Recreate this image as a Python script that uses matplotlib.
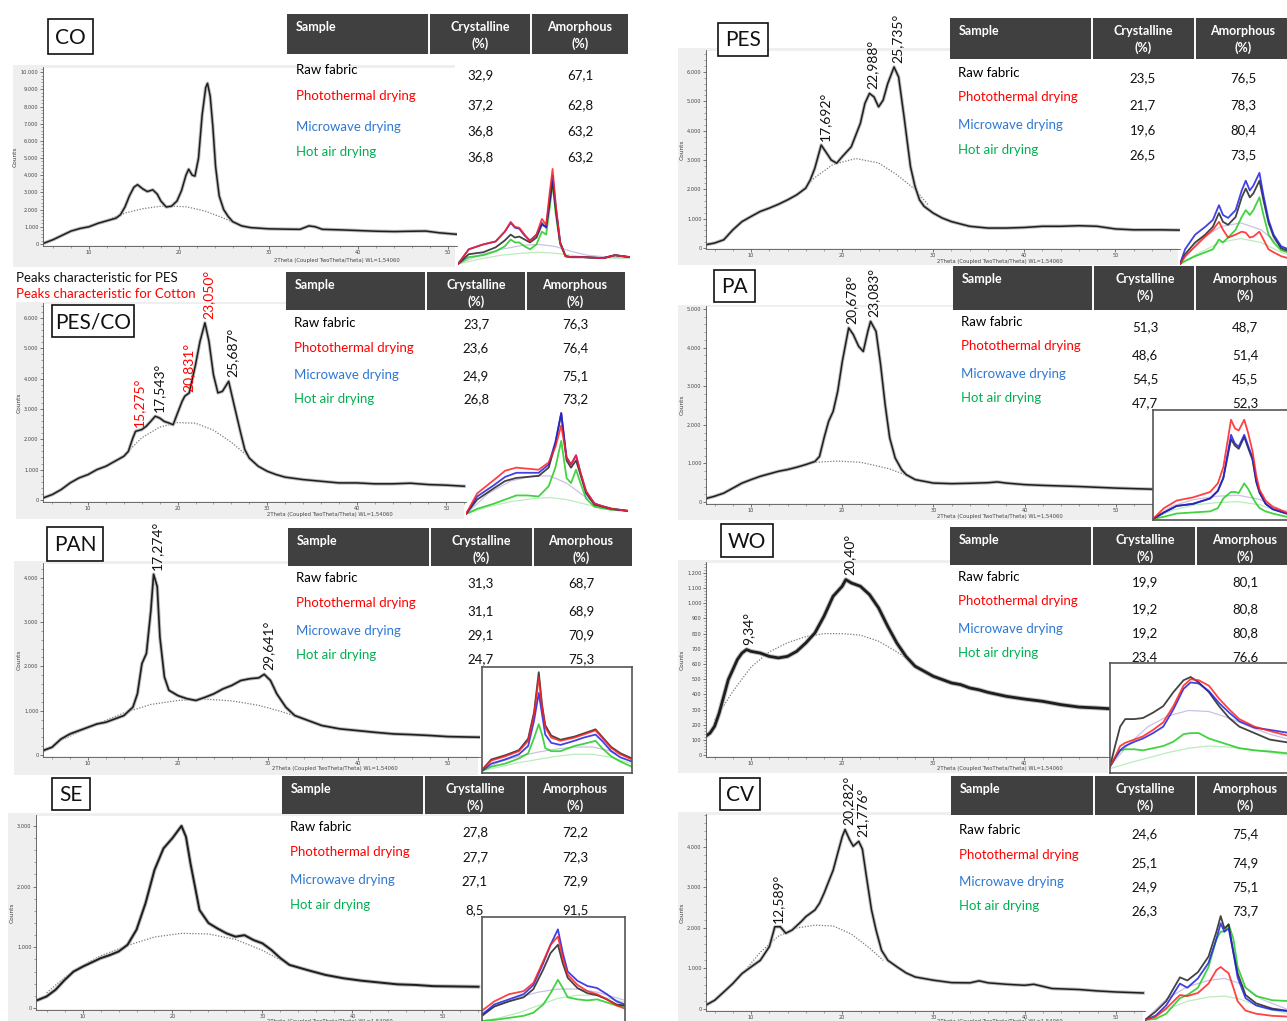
import matplotlib
matplotlib.use("Agg")
import matplotlib.pyplot as plt
from matplotlib.patches import Rectangle
from matplotlib.ticker import MultipleLocator, FuncFormatter

plt.rcParams['font.family'] = ['Lato', 'DejaVu Sans']

# ---------------- DATA ----------------
samples = ["Raw fabric", "Photothermal drying", "Microwave drying", "Hot air drying"]
xlabel_text = "2Theta (Coupled TwoTheta/Theta) WL=1,54060"

co_cryst = [32.9, 37.2, 36.8, 36.8]; co_amor = [67.1, 62.8, 63.2, 63.2]
pes_cryst = [23.5, 21.7, 19.6, 26.5]; pes_amor = [76.5, 78.3, 80.4, 73.5]
pesco_cryst = [23.7, 23.6, 24.9, 26.8]; pesco_amor = [76.3, 76.4, 75.1, 73.2]
pa_cryst = [51.3, 48.6, 54.5, 47.7]; pa_amor = [48.7, 51.4, 45.5, 52.3]
pan_cryst = [31.3, 31.1, 29.1, 24.7]; pan_amor = [68.7, 68.9, 70.9, 75.3]
wo_cryst = [19.9, 19.2, 19.2, 23.4]; wo_amor = [80.1, 80.8, 80.8, 76.6]
se_cryst = [27.8, 27.7, 27.1, 8.5]; se_amor = [72.2, 72.3, 72.9, 91.5]
cv_cryst = [24.6, 25.1, 24.9, 26.3]; cv_amor = [75.4, 74.9, 75.1, 73.7]

# main diffractograms (2theta, counts)
co_x = [5, 6, 7, 8, 9, 10, 11, 12, 13, 13.5, 14, 14.5, 15, 15.4, 16, 16.5, 17.1, 17.6, 18, 18.6, 19.2, 19.8, 20.3, 20.8, 21.1, 21.5, 21.8, 22.2, 22.6, 23.0, 23.2, 23.5, 23.8, 24.1, 24.5, 25, 25.5, 26, 27, 28, 30, 32, 33.5, 34.5, 35.2, 36, 38, 40, 42, 44, 46, 47.5, 49, 51]
co_y = [50, 250, 500, 750, 900, 1000, 1200, 1350, 1500, 1700, 2150, 2800, 3300, 3450, 3200, 3050, 3150, 2900, 2500, 2150, 2200, 2500, 3100, 4000, 4350, 4000, 3950, 5000, 7500, 9100, 9350, 8600, 6800, 4500, 2800, 2000, 1600, 1300, 1050, 950, 880, 860, 850, 1050, 1000, 850, 820, 780, 740, 720, 740, 750, 650, 560]
co_bg_x = [8, 10, 12, 14, 16, 18, 19.5, 21, 23, 25, 26.5, 28]
co_bg_y = [750, 1050, 1400, 1800, 2050, 2200, 2200, 2150, 1900, 1500, 1150, 950]

pesco_x = [5, 6, 7, 8, 9, 10, 11, 12, 13, 14, 14.5, 15, 15.3, 16, 16.5, 17, 17.5, 18, 18.5, 19, 19.5, 20, 20.5, 20.8, 21.3, 22, 22.5, 23.05, 23.5, 24, 24.5, 25, 25.7, 26.3, 27, 27.5, 28, 29, 30, 31, 32, 34, 36, 38, 40, 42, 44, 46, 48, 50, 52]
pesco_y = [66, 175, 340, 560, 725, 835, 1000, 1110, 1275, 1440, 1600, 2040, 2260, 2320, 2430, 2590, 2760, 2700, 2590, 2540, 2480, 2870, 3250, 3420, 3530, 4460, 5230, 5840, 5230, 4130, 3530, 3580, 3910, 3140, 2260, 1660, 1380, 1110, 945, 835, 750, 670, 615, 560, 560, 530, 530, 550, 505, 485, 450]
pesco_bg_x = [14.5, 16, 18, 20, 22, 24, 26, 27.8]
pesco_bg_y = [1600, 2050, 2400, 2550, 2530, 2300, 1900, 1450]

pan_x = [5, 6, 7, 8, 9, 10, 11, 12, 13, 14, 15, 15.5, 16, 16.5, 17, 17.3, 17.7, 18, 18.5, 19, 20, 21, 22, 23, 24, 25, 26, 27, 28, 29, 29.6, 30.3, 31, 32, 33, 34, 36, 38, 40, 42, 44, 46, 48, 50, 53.6]
pan_y = [100, 175, 360, 475, 550, 625, 700, 740, 815, 890, 1080, 1380, 2060, 2290, 3270, 4075, 3800, 2660, 1760, 1460, 1340, 1270, 1230, 1300, 1380, 1490, 1570, 1680, 1720, 1740, 1820, 1680, 1380, 1080, 890, 815, 665, 590, 550, 510, 475, 460, 440, 415, 400]
pan_bg_x = [5, 7, 9, 11, 14, 17, 20, 23, 26, 29, 31.5, 33.5]
pan_bg_y = [60, 330, 520, 700, 950, 1140, 1230, 1260, 1220, 1120, 980, 850]

se_x = [5, 6, 7, 8, 9, 10, 11, 12, 13, 14, 15, 16, 17, 18, 19, 20, 20.5, 21, 21.5, 22, 22.5, 23, 24, 25, 26, 27, 28, 29, 30, 31, 32, 33, 35, 37, 39, 41, 43, 45, 47, 49, 54]
se_y = [130, 190, 300, 460, 600, 680, 750, 820, 870, 930, 1040, 1290, 1725, 2275, 2630, 2800, 2900, 3000, 2820, 2380, 2000, 1615, 1400, 1310, 1230, 1175, 1200, 1120, 1065, 955, 820, 710, 625, 545, 490, 450, 420, 390, 380, 360, 350]
se_bg_x = [6, 8, 10, 12, 15, 18, 21, 24, 27, 30, 32, 34]
se_bg_y = [250, 500, 700, 860, 1030, 1170, 1230, 1220, 1130, 950, 790, 650]

pes_x = [5, 6, 7, 8, 9, 10, 11, 12, 13, 14, 15, 16, 16.5, 17, 17.7, 18.2, 18.8, 19.4, 20, 21, 22, 22.5, 23, 23.5, 24, 24.5, 25, 25.7, 26.2, 26.8, 27.5, 28, 28.5, 29, 30, 31, 32, 34, 36, 38, 40, 42, 44, 46, 48, 50, 52, 55, 57]
pes_y = [110, 170, 280, 620, 900, 1075, 1245, 1360, 1490, 1640, 1810, 2040, 2320, 2720, 3510, 3280, 3000, 2890, 3110, 3450, 4250, 4930, 5270, 5150, 4810, 5040, 5600, 6170, 5830, 4470, 2780, 2100, 1640, 1420, 1190, 1020, 900, 740, 680, 680, 700, 740, 740, 760, 740, 650, 620, 620, 610]
pes_bg_x = [15, 17, 19, 21.5, 24, 26, 28, 29.5]
pes_bg_y = [1800, 2400, 2850, 3050, 2900, 2500, 2000, 1450]

pa_x = [5, 6, 7, 8, 9, 10, 11, 12, 13, 14, 15, 16, 17, 17.5, 18, 18.5, 19, 19.5, 20, 20.7, 21.2, 21.8, 22.3, 22.8, 23.1, 23.7, 24.2, 24.7, 25.2, 25.8, 26.5, 27, 28, 29, 30, 32, 34, 36, 37, 38, 40, 42, 44, 46, 48, 50, 54.3]
pa_y = [86, 150, 230, 360, 490, 580, 665, 730, 795, 840, 900, 970, 1050, 1180, 1660, 2090, 2350, 2870, 3640, 4510, 4340, 4030, 3900, 4420, 4680, 4420, 3560, 2520, 1660, 1140, 840, 710, 580, 535, 490, 475, 485, 500, 520, 490, 450, 430, 415, 400, 380, 360, 330]
pa_bg_x = [7, 10, 14, 17, 19.5, 22, 25, 27]
pa_bg_y = [220, 570, 870, 1030, 1060, 1030, 870, 700]

wo_x = [5, 5.5, 6, 6.5, 7, 7.5, 8, 8.5, 9, 9.5, 10, 11, 12, 13, 14, 15, 16, 17, 18, 19, 20, 20.4, 21, 22, 23, 24, 25, 26, 27, 28, 29, 30, 31, 32, 33, 34, 35, 36, 38, 40, 42, 44, 46, 48, 49.4]
wo_y = [123, 145, 190, 277, 387, 497, 563, 630, 672, 695, 683, 672, 650, 640, 650, 683, 738, 804, 914, 1046, 1112, 1156, 1134, 1112, 1057, 969, 848, 738, 650, 585, 552, 519, 497, 475, 464, 442, 430, 413, 387, 369, 354, 332, 316, 310, 305]
wo_bg_x = [6, 8, 10, 12, 14, 16, 18, 20, 22, 24, 26, 27]
wo_bg_y = [230, 420, 580, 680, 740, 780, 800, 800, 790, 750, 680, 640]

cv_x = [5, 6, 7, 8, 9, 10, 11, 12, 12.6, 13.2, 13.8, 14.5, 15.5, 16, 17, 17.5, 18, 19, 19.5, 20, 20.3, 20.8, 21.2, 21.8, 22.2, 22.7, 23.2, 23.7, 24.3, 25, 26, 27, 28, 30, 32, 34, 35, 36, 38, 40, 41, 43, 46, 48, 50, 53]
cv_y = [90, 215, 420, 630, 875, 1040, 1200, 1540, 2030, 2030, 1870, 1950, 2160, 2280, 2445, 2610, 2860, 3430, 3850, 4260, 4430, 4180, 4020, 4140, 3950, 3190, 2450, 1950, 1450, 1200, 1040, 890, 790, 710, 650, 645, 695, 645, 610, 585, 610, 505, 480, 445, 420, 395]
cv_bg_x = [7, 9, 11, 13, 15, 17, 19, 21, 23, 24.5]
cv_bg_y = [420, 860, 1400, 1800, 2000, 2070, 2050, 1850, 1500, 1200]

# peak labels
pesco_peak_lbl = ["15,275°", "17,543°", "20,831°", "23,050°", "25,687°"]
pesco_peak_x = [15.275, 17.543, 20.831, 23.05, 25.687]
pesco_peak_y = [2260, 2760, 3420, 5840, 3910]
pesco_peak_col = ["red", "black", "red", "red", "black"]
pes_peak_lbl = ["17,692°", "22,988°", "25,735°"]
pes_peak_x = [17.692, 22.988, 25.735]
pes_peak_y = [3510, 5270, 6170]
pan_peak_lbl = ["17,274°", "29,641°"]
pan_peak_x = [17.274, 29.641]
pan_peak_y = [4075, 1820]
pa_peak_lbl = ["20,678°", "23,083°"]
pa_peak_x = [20.678, 23.083]
pa_peak_y = [4510, 4680]
wo_peak_lbl = ["9,34°", "20,40°"]
wo_peak_x = [9.34, 20.40]
wo_peak_y = [695, 1156]
cv_peak_lbl = ["12,589°", "20,282°", "21,776°"]
cv_peak_x = [12.589, 20.282, 21.776]
cv_peak_y = [2030, 4430, 4140]

# insets (2theta, % of inset height) : raw, photothermal, microwave, hot air
co_in_x = [5, 7, 9.7, 12, 13.7, 14.8, 15.6, 16.4, 17.4, 18.4, 19.6, 20.6, 21.4, 22.0, 22.6, 23.2, 24.0, 25.0, 26, 28.3, 32, 34.2, 37]
co_in_raw = [0, 10, 12, 17, 24, 30, 27, 28, 25, 22, 27, 40, 38, 60, 85, 55, 22, 8, 7, 7, 6, 9, 7]
co_in_photo = [0, 15, 20, 23, 33, 43, 38, 37, 30, 23, 30, 46, 40, 70, 97, 60, 22, 8, 7, 7, 6, 9, 7]
co_in_micro = [0, 15, 20, 23, 33, 42, 37, 36, 29, 24, 30, 42, 37, 65, 90, 58, 22, 8, 7, 7, 6, 9, 7]
co_in_hot = [0, 7, 9, 13, 18, 25, 22, 22, 18, 15, 20, 33, 30, 55, 82, 50, 20, 8, 7, 7, 6, 9, 7]
co_in_bg_x = [5, 9, 13, 17, 20, 23, 26, 29, 33, 37]
co_in_bg1 = [0, 9, 15, 19, 20, 18, 13, 9, 7, 6]
co_in_bg2 = [0, 5, 9, 11, 12, 11, 9, 7, 6, 6]

pesco_in_x = [6, 8, 11, 13, 15, 17, 19, 20.8, 22, 23.05, 24, 24.8, 25.7, 26.5, 27.5, 29, 32, 35]
pesco_in_raw = [0, 14, 25, 32, 35, 36, 37, 45, 68, 98, 52, 45, 52, 38, 20, 9, 5, 3]
pesco_in_photo = [0, 20, 33, 42, 45, 44, 43, 50, 65, 86, 55, 48, 57, 40, 22, 10, 5, 3]
pesco_in_micro = [0, 17, 28, 36, 40, 40, 40, 48, 70, 98, 55, 48, 57, 40, 22, 10, 5, 3]
pesco_in_hot = [0, 5, 10, 14, 18, 18, 17, 27, 45, 71, 35, 30, 43, 30, 15, 7, 4, 3]
pesco_in_bg_x = [6, 10, 14, 18, 21, 24, 27, 30, 35]
pesco_in_bg1 = [0, 20, 32, 37, 37, 30, 18, 8, 3]
pesco_in_bg2 = [0, 7, 12, 15, 16, 14, 10, 6, 3]

pes_in_x = [10, 11, 13, 15, 16.5, 17.7, 18.5, 19.5, 21, 22.2, 23, 23.8, 24.5, 25.7, 26.5, 27.5, 28.5, 30, 32, 36]
pes_in_raw = [0, 10, 22, 30, 38, 52, 43, 40, 48, 68, 77, 68, 72, 85, 65, 42, 28, 16, 12, 8]
pes_in_photo = [0, 8, 18, 28, 35, 43, 35, 27, 30, 33, 32, 27, 28, 33, 25, 15, 12, 8, 5, 3]
pes_in_micro = [0, 15, 30, 38, 45, 60, 50, 47, 55, 75, 85, 75, 80, 93, 70, 45, 30, 18, 14, 10]
pes_in_hot = [0, 3, 8, 12, 15, 25, 22, 27, 35, 48, 55, 50, 55, 68, 50, 30, 22, 14, 11, 8]
pes_in_bg_x = [10, 14, 18, 22, 26, 30, 34]
pes_in_bg1 = [0, 25, 38, 42, 35, 18, 8]
pes_in_bg2 = [0, 12, 22, 26, 22, 12, 5]

pa_in_x = [6.5, 8.5, 10.8, 13.8, 16.9, 18.3, 19.3, 20, 20.7, 21.4, 22.1, 23.1, 23.8, 24.6, 25.3, 25.9, 27, 28.3, 30.8, 35]
pa_in_raw = [0, 6, 12, 14, 19, 26, 38, 56, 74, 68, 65, 76, 66, 55, 34, 24, 14, 9, 5, 2]
pa_in_photo = [0, 10, 17, 20, 25, 33, 48, 70, 92, 84, 82, 92, 80, 63, 40, 27, 17, 11, 6, 3]
pa_in_micro = [0, 6, 12, 14, 19, 26, 38, 58, 78, 70, 67, 78, 68, 57, 35, 25, 14, 9, 5, 2]
pa_in_hot = [0, 2, 5, 6, 7, 10, 19, 22, 25, 25, 24, 33, 28, 20, 14, 10, 7, 5, 2, 1]
pa_in_bg_x = [6.5, 10, 14, 18, 22, 26, 30, 37.8]
pa_in_bg1 = [0, 12, 18, 21, 22, 18, 8, 3]
pa_in_bg2 = [0, 8, 13, 15, 16, 13, 6, 2]

pan_in_x = [5, 7, 10, 13, 15, 16.3, 17.3, 18, 18.7, 20, 22, 25, 27, 29.6, 31, 33, 35, 37.5]
pan_in_raw = [2, 12, 16, 21, 32, 58, 96, 65, 45, 35, 31, 34, 37, 41, 34, 24, 18, 13]
pan_in_photo = [2, 11, 15, 20, 30, 56, 91, 63, 43, 33, 30, 33, 36, 40, 33, 23, 17, 12]
pan_in_micro = [1, 8, 12, 17, 25, 50, 76, 56, 36, 28, 26, 30, 33, 36, 30, 20, 14, 10]
pan_in_hot = [1, 5, 8, 13, 18, 33, 46, 36, 23, 20, 20, 25, 27, 30, 23, 15, 10, 5]
pan_in_bg_x = [5, 9, 13, 17, 21, 25, 29, 33, 37.5]
pan_in_bg1 = [2, 10, 15, 19, 22, 24, 24, 20, 13]
pan_in_bg2 = [1, 5, 9, 12, 15, 17, 17, 14, 8]

se_in_x = [5.5, 8, 11, 14, 16, 18, 19.5, 21, 22, 23, 25, 27, 29, 31, 33, 34.7]
se_in_raw = [5, 14, 19, 23, 31, 50, 66, 74, 56, 42, 32, 27, 25, 21, 16, 15]
se_in_photo = [10, 19, 26, 29, 37, 58, 74, 82, 61, 45, 35, 29, 26, 21, 15, 12]
se_in_micro = [6, 16, 21, 26, 35, 56, 74, 89, 66, 48, 39, 34, 32, 26, 19, 16]
se_in_hot = [0, 1, 3, 5, 8, 16, 27, 40, 32, 23, 21, 20, 21, 18, 15, 14]
se_in_bg_x = [5.5, 9, 13, 17, 21, 25, 29, 34.7]
se_in_bg1 = [8, 16, 23, 28, 31, 31, 28, 20]
se_in_bg2 = [0, 3, 8, 15, 22, 25, 25, 18]

wo_in_x = [4.5, 5.5, 6.5, 7.5, 9.3, 11, 13, 15, 17, 19, 20.4, 22, 24, 26, 28, 30, 33, 36, 40]
wo_in_raw = [5, 24, 42, 49, 49, 50, 55, 61, 74, 85, 88, 83, 74, 61, 50, 42, 36, 30, 27]
wo_in_photo = [5, 14, 24, 27, 30, 33, 39, 46, 61, 80, 86, 85, 80, 68, 58, 49, 42, 38, 33]
wo_in_micro = [5, 13, 20, 24, 28, 31, 36, 42, 58, 77, 83, 82, 75, 64, 55, 47, 41, 39, 36]
wo_in_hot = [5, 13, 20, 21, 21, 20, 22, 24, 28, 35, 36, 36, 31, 28, 25, 22, 20, 19, 17]
wo_in_bg_x = [4.5, 8, 12, 16, 20, 24, 28, 32, 36, 40]
wo_in_bg1 = [5, 25, 42, 52, 57, 56, 50, 42, 35, 30]
wo_in_bg2 = [3, 8, 13, 18, 22, 24, 23, 21, 18, 16]

cv_in_x = [6, 8, 10, 12.6, 14, 16, 18, 19.5, 20.3, 21, 21.8, 22.7, 23.5, 25, 27, 30, 34, 38]
cv_in_raw = [0, 8, 18, 41, 38, 46, 61, 85, 100, 88, 92, 65, 45, 24, 16, 11, 8, 8]
cv_in_photo = [0, 3, 11, 24, 23, 26, 35, 48, 51, 48, 45, 31, 18, 9, 6, 4, 3, 3]
cv_in_micro = [0, 4, 14, 35, 31, 40, 55, 78, 93, 85, 88, 65, 41, 21, 14, 10, 8, 8]
cv_in_hot = [0, 1, 6, 21, 24, 31, 51, 78, 85, 85, 92, 78, 51, 31, 23, 19, 18, 17]
cv_in_bg_x = [6, 10, 14, 18, 21, 24, 28, 33, 38.5]
cv_in_bg1 = [0, 20, 32, 38, 40, 35, 20, 10, 8]
cv_in_bg2 = [0, 10, 18, 22, 23, 20, 12, 6, 4]

# ---------------- STYLE / LAYOUT ----------------
RED = '#ff0000'; BLUE = '#2e78d2'; GREEN = '#00b050'
label_colors = ['#000000', RED, BLUE, GREEN]
inset_colors = ['#222222', '#ff2020', '#2020e0', '#20cc20']

W, H = 1287, 1021
fig = plt.figure(figsize=(W / 100, H / 100), dpi=100)


def px_axes(x0, y0, x1, y1, z):
    return fig.add_axes([x0 / W, 1 - y1 / H, (x1 - x0) / W, (y1 - y0) / H], zorder=z)


panels = [
    dict(box=(48, 19, 93, 54), lbl='CO', frame=(13, 65, 457, 267), axes=(43, 67, 457, 246),
         xlim=(4.87, 51.0), ylim=(-120, 10300), ystep=1000, x=co_x, y=co_y, bgx=co_bg_x, bgy=co_bg_y, lw=1.1,
         peaks=None, xl=(337, 260),
         table=dict(hdr=(287, 14, 628, 54), splits=(429, 531), lx=296, ly=[70, 96, 127, 152], vy=[75, 105, 131, 157], vx=(480, 580)),
         cryst=co_cryst, amor=co_amor,
         inset=dict(pos=(458, 165, 630, 265), xlim=(5, 37), border=False,
                    x=co_in_x, s=[co_in_raw, co_in_photo, co_in_micro, co_in_hot],
                    bgx=co_in_bg_x, bg=[co_in_bg1, co_in_bg2])),
    dict(box=(52, 305, 134, 337), lbl='PES/CO', frame=(16, 302, 466, 519), axes=(43, 303, 466, 502),
         xlim=(4.97, 52.2), ylim=(-70, 6495), ystep=1000, x=pesco_x, y=pesco_y, bgx=pesco_bg_x, bgy=pesco_bg_y, lw=1.1,
         peaks=(pesco_peak_lbl, pesco_peak_x, pesco_peak_y, pesco_peak_col), xl=(330, 514),
         table=dict(hdr=(286, 272, 625, 310), splits=(426, 526), lx=294, ly=[323, 348, 375, 399], vy=[324, 348, 376, 399], vx=(476, 575)),
         cryst=pesco_cryst, amor=pesco_amor,
         inset=dict(pos=(466, 410, 628, 515), xlim=(6, 35), border=False,
                    x=pesco_in_x, s=[pesco_in_raw, pesco_in_photo, pesco_in_micro, pesco_in_hot],
                    bgx=pesco_in_bg_x, bg=[pesco_in_bg1, pesco_in_bg2])),
    dict(box=(47, 527, 103, 561), lbl='PAN', frame=(14, 561, 480, 775), axes=(43, 563, 480, 757),
         xlim=(5.0, 53.6), ylim=(-45, 4330), ystep=1000, x=pan_x, y=pan_y, bgx=pan_bg_x, bgy=pan_bg_y, lw=1.2,
         peaks=(pan_peak_lbl, pan_peak_x, pan_peak_y, ['black'] * 2), xl=(335, 768),
         table=dict(hdr=(288, 528, 632, 566), splits=(430, 533), lx=296, ly=[578, 603, 631, 655], vy=[583, 611, 635, 659], vx=(481, 581)),
         cryst=pan_cryst, amor=pan_amor,
         inset=dict(pos=(482, 667, 632, 773), xlim=(5, 37.5), border=True,
                    x=pan_in_x, s=[pan_in_raw, pan_in_photo, pan_in_micro, pan_in_hot],
                    bgx=pan_in_bg_x, bg=[pan_in_bg1, pan_in_bg2])),
    dict(box=(52, 778, 90, 810), lbl='SE', frame=(8, 813, 482, 1021), axes=(36, 815, 482, 1010),
         xlim=(4.83, 54.4), ylim=(-33, 3180), ystep=1000, x=se_x, y=se_y, bgx=se_bg_x, bgy=se_bg_y, lw=1.4,
         peaks=None, xl=(330, 1021),
         table=dict(hdr=(282, 776, 624, 814), splits=(424, 526), lx=290, ly=[827, 852, 880, 905], vy=[832, 857, 881, 910], vx=(475, 575)),
         cryst=se_cryst, amor=se_amor,
         inset=dict(pos=(482, 917, 625, 1022), xlim=(5.5, 34.7), border=True,
                    x=se_in_x, s=[se_in_raw, se_in_photo, se_in_micro, se_in_hot],
                    bgx=se_in_bg_x, bg=[se_in_bg1, se_in_bg2])),
    dict(box=(718, 23, 768, 56), lbl='PES', frame=(678, 48, 1180, 265), axes=(706, 50, 1180, 249),
         xlim=(5.05, 57.1), ylim=(-34, 6750), ystep=1000, x=pes_x, y=pes_y, bgx=pes_bg_x, bgy=pes_bg_y, lw=1.1,
         peaks=(pes_peak_lbl, pes_peak_x, pes_peak_y, ['black'] * 3), xl=(1000, 261),
         table=dict(hdr=(950, 18, 1290, 59), splits=(1092, 1195), lx=958, ly=[73, 97, 125, 150], vy=[78, 105, 130, 155], vx=(1143, 1243)),
         cryst=pes_cryst, amor=pes_amor,
         inset=dict(pos=(1180, 165, 1352, 265), xlim=(10, 44), border=False,
                    x=pes_in_x, s=[pes_in_raw, pes_in_photo, pes_in_micro, pes_in_hot],
                    bgx=pes_in_bg_x, bg=[pes_in_bg1, pes_in_bg2])),
    dict(box=(714, 270, 755, 302), lbl='PA', frame=(678, 305, 1155, 520), axes=(706, 306, 1155, 504),
         xlim=(5.05, 54.3), ylim=(-52, 5078), ystep=1000, x=pa_x, y=pa_y, bgx=pa_bg_x, bgy=pa_bg_y, lw=1.1,
         peaks=(pa_peak_lbl, pa_peak_x, pa_peak_y, ['black'] * 2), xl=(1000, 516),
         table=dict(hdr=(953, 266, 1290, 310), splits=(1093, 1195), lx=961, ly=[322, 346, 374, 398], vy=[327, 355, 379, 403], vx=(1145, 1245)),
         cryst=pa_cryst, amor=pa_amor,
         inset=dict(pos=(1153, 410, 1325, 520), xlim=(6.5, 37.8), border=True,
                    x=pa_in_x, s=[pa_in_raw, pa_in_photo, pa_in_micro, pa_in_hot],
                    bgx=pa_in_bg_x, bg=[pa_in_bg1, pa_in_bg2])),
    dict(box=(721, 524, 773, 557), lbl='WO', frame=(678, 560, 1110, 773), axes=(706, 562, 1110, 757),
         xlim=(5.05, 49.4), ylim=(-13, 1272), ystep=100, x=wo_x, y=wo_y, bgx=wo_bg_x, bgy=wo_bg_y, lw=2.0,
         peaks=(wo_peak_lbl, wo_peak_x, wo_peak_y, ['black'] * 2), xl=(1000, 768),
         table=dict(hdr=(950, 527, 1290, 565), splits=(1092, 1196), lx=958, ly=[577, 601, 629, 653], vy=[582, 609, 633, 657], vx=(1145, 1245)),
         cryst=wo_cryst, amor=wo_amor,
         inset=dict(pos=(1110, 663, 1290, 773), xlim=(4.5, 40), border=True,
                    x=wo_in_x, s=[wo_in_raw, wo_in_photo, wo_in_micro, wo_in_hot],
                    bgx=wo_in_bg_x, bg=[wo_in_bg1, wo_in_bg2])),
    dict(box=(720, 778, 760, 810), lbl='CV', frame=(678, 812, 1145, 1021), axes=(706, 814, 1145, 1011),
         xlim=(5.05, 53.2), ylim=(-50, 4815), ystep=1000, x=cv_x, y=cv_y, bgx=cv_bg_x, bgy=cv_bg_y, lw=1.1,
         peaks=(cv_peak_lbl, cv_peak_x, cv_peak_y, ['black'] * 3), xl=(1000, 1021),
         table=dict(hdr=(951, 776, 1290, 815), splits=(1094, 1196), lx=959, ly=[830, 855, 882, 906], vy=[834, 863, 887, 911], vx=(1145, 1245)),
         cryst=cv_cryst, amor=cv_amor,
         inset=dict(pos=(1145, 915, 1317, 1021), xlim=(6, 38.5), border=False,
                    x=cv_in_x, s=[cv_in_raw, cv_in_photo, cv_in_micro, cv_in_hot],
                    bgx=cv_in_bg_x, bg=[cv_in_bg1, cv_in_bg2])),
]

# underlay for grey plot frames
under = fig.add_axes([0, 0, 1, 1], zorder=0)
under.set_xlim(0, W); under.set_ylim(H, 0); under.axis('off')

# overlay for text, label boxes, tables
ov = fig.add_axes([0, 0, 1, 1], zorder=5)
ov.set_xlim(0, W); ov.set_ylim(H, 0); ov.axis('off')
ov.patch.set_alpha(0)

thousands = FuncFormatter(lambda v, p: f"{int(round(v)):,}".replace(",", "."))


def fmt(v):
    return f"{v:.1f}".replace(".", ",")


for P in panels:
    fx0, fy0, fx1, fy1 = P['frame']
    ax0, ay0, ax1, ay1 = P['axes']
    # grey strips left of and below the plotting area (and a thin strip on top)
    under.add_patch(Rectangle((fx0, fy0), ax0 - fx0 + 1, fy1 - fy0, fc='#efefef', ec='none'))
    under.add_patch(Rectangle((fx0, ay1 - 1), ax1 - fx0 - 2, fy1 - ay1 + 1, fc='#efefef', ec='none'))
    under.add_patch(Rectangle((fx0, fy0), ax1 - fx0 - 2, ay0 - fy0 + 1, fc='#efefef', ec='none'))

    ax = px_axes(*P['axes'], z=1)
    ax.patch.set_alpha(0)
    ax.plot(P['bgx'], P['bgy'], color='#7a7a7a', lw=0.9, ls=(0, (1, 1.3)))
    ax.plot(P['x'], P['y'], color='#bdbdbd', lw=P['lw'] + 1.4, solid_joinstyle='round')
    ax.plot(P['x'], P['y'], color='#1e1e1e', lw=P['lw'], solid_joinstyle='round')
    ax.set_xlim(*P['xlim']); ax.set_ylim(*P['ylim'])
    for s in ['top', 'right']:
        ax.spines[s].set_visible(False)
    for s in ['left', 'bottom']:
        ax.spines[s].set_color('#555555'); ax.spines[s].set_linewidth(0.6)
    ax.xaxis.set_major_locator(MultipleLocator(10))
    ax.xaxis.set_minor_locator(MultipleLocator(2))
    ax.yaxis.set_major_locator(MultipleLocator(P['ystep']))
    ax.yaxis.set_minor_locator(MultipleLocator(P['ystep'] / 5))
    ax.yaxis.set_major_formatter(thousands)
    ax.tick_params(which='major', labelsize=3.6, length=2.2, width=0.5, colors='#444444', pad=1)
    ax.tick_params(which='minor', length=1.2, width=0.4, colors='#666666')
    ax.set_ylabel('Counts', fontsize=4.2, color='#444444', labelpad=2, family=['DejaVu Sans'])
    for lab in ax.get_xticklabels() + ax.get_yticklabels():
        lab.set_family('DejaVu Sans')

    if P['peaks'] is not None:
        lbls, pxs, pys, cols = P['peaks']
        for t, xv, yv, c in zip(lbls, pxs, pys, cols):
            ax.annotate(t, xy=(xv, yv), xytext=(2.5, 3), textcoords='offset points',
                        rotation=90, ha='center', va='bottom', fontsize=10,
                        color=RED if c == 'red' else '#111111', annotation_clip=False, zorder=6)

    # x label
    ov.text(P['xl'][0], P['xl'][1], xlabel_text, fontsize=3.8, color='#444444',
            ha='center', va='center', family=['DejaVu Sans'])

    # label box
    bx0, by0, bx1, by1 = P['box']
    ov.add_patch(Rectangle((bx0, by0), bx1 - bx0, by1 - by0, fc='white', ec='#111111', lw=1.2))
    ov.text((bx0 + bx1) / 2, (by0 + by1) / 2 + 1, P['lbl'], fontsize=15, ha='center', va='center', color='#111111')

    # table
    T = P['table']
    hx0, hy0, hx1, hy1 = T['hdr']
    c1, c2 = T['splits']
    ov.add_patch(Rectangle((hx0, hy0), hx1 - hx0, hy1 - hy0, fc='#404040', ec='none'))
    ov.plot([c1, c1], [hy0, hy1], color='white', lw=1.4)
    ov.plot([c2, c2], [hy0, hy1], color='white', lw=1.4)
    ov.text(hx0 + 9, hy0 + 13, 'Sample', color='white', fontsize=9, weight='bold', ha='left', va='center')
    for cx, word in zip(T['vx'], ['Crystalline', 'Amorphous']):
        ov.text(cx, hy0 + 13, word, color='white', fontsize=9, weight='bold', ha='center', va='center')
        ov.text(cx, hy0 + 30, '(%)', color='white', fontsize=9, weight='bold', ha='center', va='center')
    for i, s in enumerate(samples):
        ov.text(T['lx'], T['ly'][i], s, color=label_colors[i], fontsize=9.5, ha='left', va='center')
        ov.text(T['vx'][0], T['vy'][i], fmt(P['cryst'][i]), color='#111111', fontsize=9.5, ha='center', va='center')
        ov.text(T['vx'][1], T['vy'][i], fmt(P['amor'][i]), color='#111111', fontsize=9.5, ha='center', va='center')

    # inset
    I = P['inset']
    ia = px_axes(*I['pos'], z=10)
    if I['border']:
        ia.set_facecolor('white')
    else:
        ia.patch.set_alpha(0)
    ia.plot(I['bgx'], I['bg'][0], color='#b7a6dc', lw=0.9, alpha=0.7)
    ia.plot(I['bgx'], I['bg'][1], color='#9fe59f', lw=0.9, alpha=0.7)
    for series, col in zip([I['s'][3], I['s'][0], I['s'][2], I['s'][1]],
                           [inset_colors[3], inset_colors[0], inset_colors[2], inset_colors[1]]):
        ia.plot(I['x'], series, color=col, lw=1.3, alpha=0.85)
    ia.set_xlim(*I['xlim']); ia.set_ylim(-1, 101)
    ia.set_xticks([]); ia.set_yticks([])
    for s in ia.spines.values():
        s.set_visible(I['border'])
        s.set_color('#555555'); s.set_linewidth(1.2)

# PES/CO legend texts
ov.text(16, 278, 'Peaks characteristic for PES', fontsize=9.5, color='#111111', ha='left', va='center')
ov.text(16, 294, 'Peaks characteristic for Cotton', fontsize=9.5, color=RED, ha='left', va='center')

fig.savefig('out.png', dpi=100)
